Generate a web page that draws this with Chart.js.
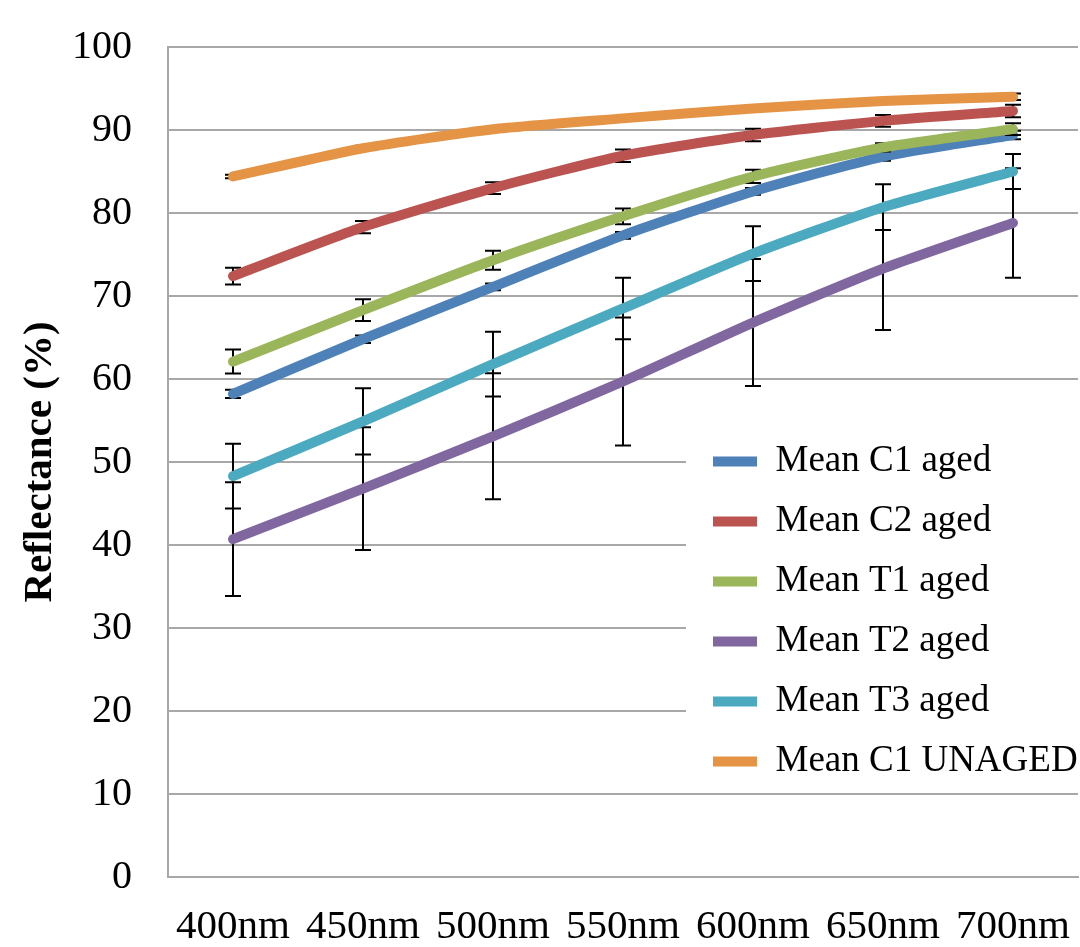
<!DOCTYPE html>
<html>
<head>
<meta charset="utf-8">
<script src="https://cdn.jsdelivr.net/npm/chart.js@4.4.1/dist/chart.umd.min.js"></script>
<style>
html,body{margin:0;padding:0;background:#fff;}
#wrap{width:1080px;height:947px;}
</style>
</head>
<body>
<div id="wrap"><canvas id="c" width="1080" height="947"></canvas></div>
<script>
// ---- data ----
const categories = ['400nm', '450nm', '500nm', '550nm', '600nm', '650nm', '700nm'];
const seriesNames = ['Mean C1 aged', 'Mean C2 aged', 'Mean T1 aged', 'Mean T2 aged', 'Mean T3 aged', 'Mean C1 UNAGED'];

const meanC1Aged   = [58.2, 64.8, 71.1, 77.3, 82.6, 86.8, 89.4];
const errC1Aged    = [0.5, 0.45, 0.4, 0.4, 0.4, 0.5, 0.5];
const meanC2Aged   = [72.4, 78.3, 83.0, 86.9, 89.4, 91.1, 92.3];
const errC2Aged    = [1.0, 0.75, 0.7, 0.75, 0.75, 0.7, 0.75];
const meanT1Aged   = [62.1, 68.3, 74.3, 79.6, 84.4, 87.9, 90.1];
const errT1Aged    = [1.45, 1.3, 1.15, 0.95, 0.8, 0.5, 0.7];
const meanT2Aged   = [40.7, 46.8, 53.1, 59.7, 66.8, 73.3, 78.8];
const errT2Aged    = [6.85, 7.4, 7.6, 7.7, 7.65, 7.4, 6.6];
const meanT3Aged   = [48.3, 54.9, 61.8, 68.5, 75.1, 80.7, 85.0];
const errT3Aged    = [3.9, 4.0, 3.9, 3.7, 3.3, 2.75, 2.1];
const meanC1Unaged = [84.4, 87.8, 90.1, 91.4, 92.6, 93.5, 94.0];
const errC1Unaged  = [0.2, 0.3, 0.3, 0.3, 0.3, 0.3, 0.4];

const yMin = 0, yMax = 100, yStep = 10;
const yTitle = 'Reflectance (%)';

// ---- styling ----
const FONT = "'Liberation Serif', 'Times New Roman', serif";
const colors = ['#4f81b9', '#bb5450', '#9bb55a', '#8167a0', '#4ba9c0', '#e49444'];
const means = [meanC1Aged, meanC2Aged, meanT1Aged, meanT2Aged, meanT3Aged, meanC1Unaged];
const errs  = [errC1Aged, errC2Aged, errT1Aged, errT2Aged, errT3Aged, errC1Unaged];
const GRID = '#a8a8a8';

const datasets = seriesNames.map((name, i) => ({
  label: name,
  data: means[i],
  borderColor: colors[i],
  backgroundColor: colors[i],
  borderWidth: 10,
  borderCapStyle: 'round',
  borderJoinStyle: 'round',
  pointRadius: 0,
  pointHoverRadius: 0,
  tension: 0.2,
  fill: false,
  order: seriesNames.length - i
}));

const errorBarsPlugin = {
  id: 'errorBars',
  beforeDatasetDraw(chart, args) {
    const idx = args.index;
    const e = errs[idx];
    const m = chart.data.datasets[idx].data;
    const ys = chart.scales.y;
    const ctx = chart.ctx;
    ctx.save();
    ctx.strokeStyle = '#000';
    ctx.lineWidth = 2;
    args.meta.data.forEach((pt, i) => {
      const x = pt.x;
      const yt = ys.getPixelForValue(m[i] + e[i]);
      const yb = ys.getPixelForValue(m[i] - e[i]);
      ctx.beginPath();
      ctx.moveTo(x, yt); ctx.lineTo(x, yb);
      ctx.moveTo(x - 8, yt); ctx.lineTo(x + 8, yt);
      ctx.moveTo(x - 8, yb); ctx.lineTo(x + 8, yb);
      ctx.stroke();
    });
    ctx.restore();
  }
};

const legendPlacer = {
  id: 'legendPlacer',
  beforeLayout(chart) {
    const lg = chart.legend;
    if (lg && !lg._customLayers) {
      lg._customLayers = true;
      lg._layers = function () {
        return [{
          z: 1,
          draw: (area) => {
            const ctx = chart.ctx;
            ctx.save();
            ctx.fillStyle = '#ffffff';
            ctx.fillRect(lg.left - 4, lg.top + 18, chart.width - (lg.left - 4), 352);
            ctx.restore();
            lg.draw(area);
          }
        }];
      };
    }
  },
  afterLayout(chart) {
    const lg = chart.legend;
    if (!lg) return;
    lg.left = 690;
    lg.top = 420;
    lg.right = chart.width;
    lg.bottom = chart.chartArea.bottom;
    lg.width = lg.right - lg.left;
    lg.height = lg.bottom - lg.top;
  }
};

new Chart(document.getElementById('c'), {
  type: 'line',
  data: { labels: categories, datasets },
  plugins: [errorBarsPlugin, legendPlacer],
  options: {
    responsive: false,
    animation: false,
    events: [],
    layout: { padding: { top: 47, right: 2, bottom: 0, left: 0 } },
    plugins: {
      title: { display: false },
      tooltip: { enabled: false },
      legend: {
        display: true,
        position: 'chartArea',
        align: 'start',
        labels: {
          usePointStyle: true,
          pointStyle: 'line',
          pointStyleWidth: 44,
          padding: 23,
          color: '#000',
          font: { family: FONT, size: 37 },
          sort: (a, b) => a.datasetIndex - b.datasetIndex
        }
      }
    },
    scales: {
      x: {
        type: 'category',
        offset: true,
        grid: { display: false, drawTicks: false },
        border: { display: true, color: GRID, width: 2 },
        ticks: { color: '#000', font: { family: FONT, size: 41 }, padding: 26, maxRotation: 0, autoSkip: false },
        afterFit(s) { s.height = 70; s.paddingLeft = 0; s.paddingRight = 0; }
      },
      y: {
        min: yMin,
        max: yMax,
        grid: { color: GRID, lineWidth: 2, drawTicks: false },
        border: { display: true, color: GRID, width: 2 },
        ticks: { stepSize: yStep, color: '#000', font: { family: FONT, size: 40 }, padding: 36 },
        title: {
          display: true,
          text: yTitle,
          color: '#000',
          font: { family: FONT, size: 41, weight: 'bold', lineHeight: 1 },
          padding: { top: 20, bottom: 0 }
        },
        afterFit(s) { s.width = 168; s.paddingTop = 0; s.paddingBottom = 0; }
      }
    }
  }
});
</script>
</body>
</html>
